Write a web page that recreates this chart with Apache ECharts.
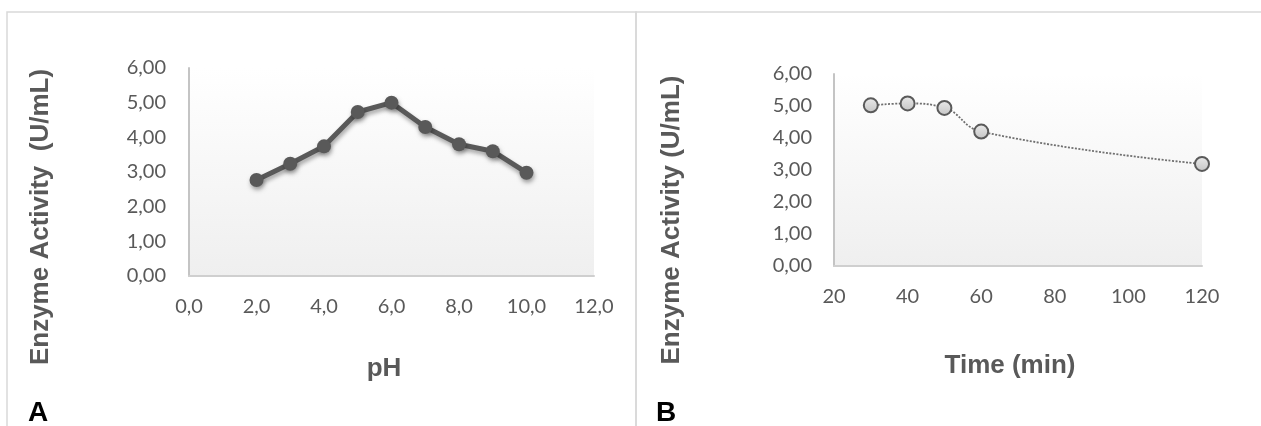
<!DOCTYPE html>
<html>
<head>
<meta charset="utf-8">
<script src="https://cdn.jsdelivr.net/npm/echarts@6/dist/echarts.min.js"></script>
<style>
html,body{margin:0;padding:0;background:#fff;}
#c{width:1261px;height:426px;}
</style>
</head>
<body>
<div id="c"></div>
<script>
// Panel A: activity vs pH
const phValues = [2, 3, 4, 5, 6, 7, 8, 9, 10];
const phActivity = [2.77, 3.24, 3.74, 4.73, 5.00, 4.30, 3.80, 3.60, 2.98];
// Panel B: activity vs time
const timeValues = [30, 40, 50, 60, 120];
const timeActivity = [5.02, 5.08, 4.94, 4.20, 3.19];
// Texts
const yTitleA = 'Enzyme Activity  (U/mL)';
const yTitleB = 'Enzyme Activity (U/mL)';
const xTitleA = 'pH';
const xTitleB = 'Time (min)';
const panelLabels = ['A', 'B'];

const gray = '#595959';
const tickFont = {color: gray, fontFamily: 'Lato', fontSize: 20};
const titleFont = {fill: gray, fontFamily: 'Liberation Sans, Arial', fontWeight: 'bold', fontSize: 26};
const bg = new echarts.graphic.LinearGradient(0, 0, 0, 1, [
  {offset: 0, color: '#ffffff'}, {offset: 1, color: '#efefef'}
]);
const bg2 = new echarts.graphic.LinearGradient(0, 0, 0, 1, [
  {offset: 0, color: '#ffffff'}, {offset: 1, color: '#efefef'}
]);
const comma = (v, d) => v.toFixed(d).replace('.', ',');

const chart = echarts.init(document.getElementById('c'), null, {renderer: 'canvas'});
chart.setOption({
  animation: false,
  grid: [
    {left: 189, right: 667, top: 68, bottom: 150, show: true, backgroundColor: bg, borderWidth: 0},
    {left: 834, right: 59, top: 74, bottom: 160, show: true, backgroundColor: bg2, borderWidth: 0}
  ],
  xAxis: [
    {gridIndex: 0, type: 'value', min: 0, max: 12, interval: 2,
     axisLine: {show: true, lineStyle: {color: '#cfcfcf', width: 2}}, axisTick: {show: false},
     splitLine: {show: false}, axisLabel: Object.assign({margin: 21, formatter: v => comma(v, 1)}, tickFont)},
    {gridIndex: 1, type: 'value', min: 20, max: 120, interval: 20,
     axisLine: {show: true, lineStyle: {color: '#cfcfcf', width: 2}}, axisTick: {show: false},
     splitLine: {show: false}, axisLabel: Object.assign({margin: 21}, tickFont)}
  ],
  yAxis: [
    {gridIndex: 0, type: 'value', min: 0, max: 6, interval: 1,
     axisLine: {show: true, lineStyle: {color: '#c4c4c4', width: 2}}, axisTick: {show: false},
     splitLine: {show: false}, axisLabel: Object.assign({margin: 23, formatter: v => comma(v, 2)}, tickFont)},
    {gridIndex: 1, type: 'value', min: 0, max: 6, interval: 1,
     axisLine: {show: true, lineStyle: {color: '#c4c4c4', width: 2}}, axisTick: {show: false},
     splitLine: {show: false}, axisLabel: Object.assign({margin: 22, formatter: v => comma(v, 2)}, tickFont)}
  ],
  series: [
    {type: 'line', xAxisIndex: 0, yAxisIndex: 0,
     data: phValues.map((x, i) => [x, phActivity[i]]),
     symbol: 'circle', symbolSize: 14,
     lineStyle: {color: gray, width: 5, shadowColor: 'rgba(0,0,0,0.35)', shadowBlur: 4, shadowOffsetY: 3, shadowOffsetX: 1},
     itemStyle: {color: gray, shadowColor: 'rgba(0,0,0,0.35)', shadowBlur: 4, shadowOffsetY: 3, shadowOffsetX: 1}},
    {type: 'line', xAxisIndex: 1, yAxisIndex: 1,
     data: timeValues.map((x, i) => [x, timeActivity[i]]),
     smooth: 0.45,
     symbol: 'circle', symbolSize: 14,
     lineStyle: {color: '#6f6f6f', width: 1.8, type: [2, 1.5]},
     itemStyle: {
       color: new echarts.graphic.LinearGradient(0, 0, 0, 1, [
         {offset: 0, color: '#ebebeb'}, {offset: 1, color: '#c4c4c4'}
       ]),
       borderColor: '#5a5a5a', borderWidth: 2
     }}
  ],
  graphic: [
    {type: 'rect', shape: {x: 7, y: 12, width: 629, height: 440}, style: {fill: 'none', stroke: '#d9d9d9', lineWidth: 1.5}, z: -1},
    {type: 'rect', shape: {x: 636, y: 12, width: 640, height: 440}, style: {fill: 'none', stroke: '#d9d9d9', lineWidth: 1.5}, z: -1},
    {type: 'text', x: 41, y: 217, rotation: Math.PI / 2,
     style: Object.assign({text: yTitleA, textAlign: 'center', textVerticalAlign: 'middle'}, titleFont)},
    {type: 'text', x: 672, y: 220, rotation: Math.PI / 2,
     style: Object.assign({text: yTitleB, textAlign: 'center', textVerticalAlign: 'middle'}, titleFont)},
    {type: 'text', x: 384, y: 369,
     style: Object.assign({text: xTitleA, textAlign: 'center', textVerticalAlign: 'middle'}, titleFont)},
    {type: 'text', x: 1010, y: 366,
     style: Object.assign({text: xTitleB, textAlign: 'center', textVerticalAlign: 'middle'}, titleFont)},
    {type: 'text', x: 28, y: 413,
     style: {text: panelLabels[0], textAlign: 'left', textVerticalAlign: 'middle', fill: '#000', fontFamily: 'Liberation Sans, Arial', fontWeight: 'bold', fontSize: 28}},
    {type: 'text', x: 656, y: 413,
     style: {text: panelLabels[1], textAlign: 'left', textVerticalAlign: 'middle', fill: '#000', fontFamily: 'Liberation Sans, Arial', fontWeight: 'bold', fontSize: 28}}
  ]
});
</script>
</body>
</html>
